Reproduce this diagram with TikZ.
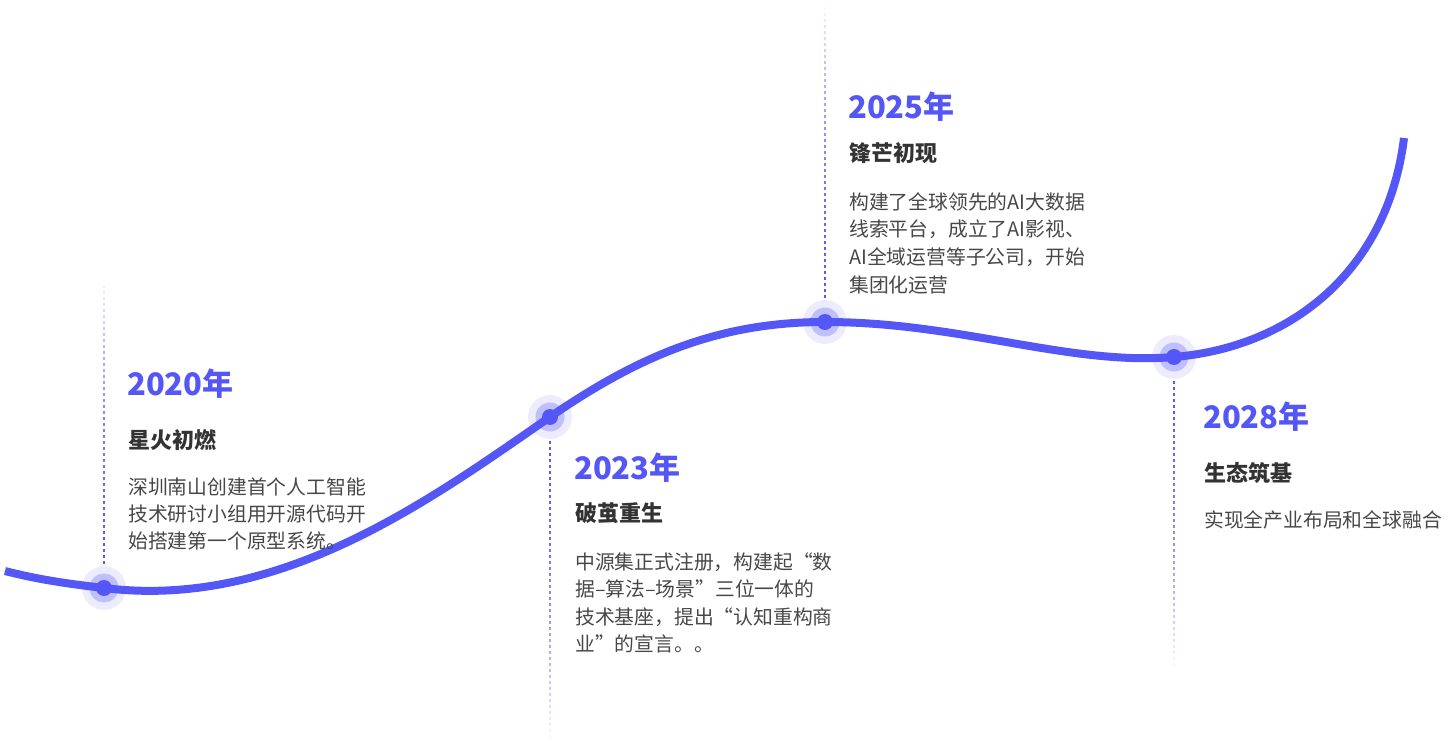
\documentclass[tikz,border=0pt]{standalone}
\usepackage{fontspec}
\setmainfont{Noto Sans CJK SC}
\definecolor{lineblue}{HTML}{5457F6}
\definecolor{yearblue}{HTML}{5457F6}
\definecolor{haloc}{HTML}{ECECFE}
\definecolor{ringc}{HTML}{BFC0FB}
\definecolor{titlec}{HTML}{333333}
\definecolor{bodyc}{HTML}{474747}
\newcommand\fadeline[3]{%
  \pgfmathsetmacro\fadlen{abs(#3-#2)}%
  \pgfmathtruncatemacro\fadn{\fadlen/6}%
  \pgfmathsetmacro\fadsg{sign(#3-#2)}%
  \foreach \i in {0,...,\fadn}{%
    \pgfmathsetmacro\ya{#2+\fadsg*6*\i}%
    \pgfmathsetmacro\yb{\ya+\fadsg*3.2}%
    \pgfmathtruncatemacro\pc{100-95*(\i/\fadn)^2}%
    \draw[dashc, draw=lineblue!\pc!white] (#1,\ya) -- (#1,\yb);
  }%
}
\tikzset{
  curve/.style={draw=lineblue, line width=8pt},
  halo/.style={fill=haloc},
  ring/.style={fill=ringc},
  core/.style={fill=lineblue},
  dashc/.style={line width=1.8pt},
  year/.style={anchor=base west, inner sep=0pt, text=yearblue, font=\fontsize{31}{31}\selectfont\bfseries},
  ttl/.style={anchor=base west, inner sep=0pt, text=titlec, font=\fontsize{22}{22}\selectfont\bfseries},
  body/.style={anchor=base west, inner sep=0pt, text=bodyc, font=\fontsize{19.8}{20}\selectfont},
}
\begin{document}
\begin{tikzpicture}[x=1pt,y=-1pt]
\useasboundingbox (0,0) rectangle (1454,743);
\coordinate (s) at (5,571);
\coordinate (d1) at (104,588);
\coordinate (d2) at (550,417);
\coordinate (d3) at (825,322);
\coordinate (d4) at (1174,357);
\coordinate (e) at (1404,138);
% fading dashed guides
\fadeline{104}{588}{280}
\fadeline{550}{417}{738}
\fadeline{825}{322}{5}
\fadeline{1174}{357}{668}
% halos
\foreach \d in {d1,d2,d3,d4}{
  \fill[halo] (\d) circle (22pt);
  \fill[ring] (\d) circle (14.5pt);
}
% curve
\draw[curve] (s) .. controls (40,580) and (70,584) .. (d1)
  .. controls (280,610) and (430,500) .. (d2)
  .. controls (640,355) and (720,322) .. (d3)
  .. controls (960,322) and (1070,366) .. (d4)
  .. controls (1294,347) and (1388,268) .. (e);
\foreach \d in {d1,d2,d3,d4}{
  \fill[core] (\d) circle (8pt);
}
% 2020
\node[year] (y1) at (127,395) {2020年};
\node[ttl] (t1) at (128,448.5) {星火初燃};
\node[body] (b1a) at (128,494.5) {深圳南山创建首个人工智能};
\node[body] (b1b) at (128,521.5) {技术研讨小组用开源代码开};
\node[body] (b1c) at (128,548.5) {始搭建第一个原型系统。};
% 2023
\node[year] (y2) at (574,479) {2023年};
\node[ttl] (t2) at (575,521.5) {破茧重生};
\node[body] (b2a) at (575,569) {中源集正式注册，构建起“数};
\node[body] (b2b) at (575,596.5) {据–算法–场景”三位一体的};
\node[body] (b2c) at (575,624) {技术基座，提出“认知重构商};
\node[body] (b2d) at (575,651.5) {业”的宣言。。};
% 2025
\node[year] (y3) at (848,118.5) {2025年};
\node[ttl] (t3) at (849,161.5) {锋芒初现};
\node[body] (b3a) at (849,209.5) {构建了全球领先的AI大数据};
\node[body] (b3b) at (849,237) {线索平台，成立了AI影视、};
\node[body] (b3c) at (849,264.5) {AI全域运营等子公司，开始};
\node[body] (b3d) at (849,292.5) {集团化运营};
% 2028
\node[year] (y4) at (1203,428.5) {2028年};
\node[ttl] (t4) at (1204,481) {生态筑基};
\node[body] (b4a) at (1204,527.5) {实现全产业布局和全球融合};
\end{tikzpicture}
\end{document}
